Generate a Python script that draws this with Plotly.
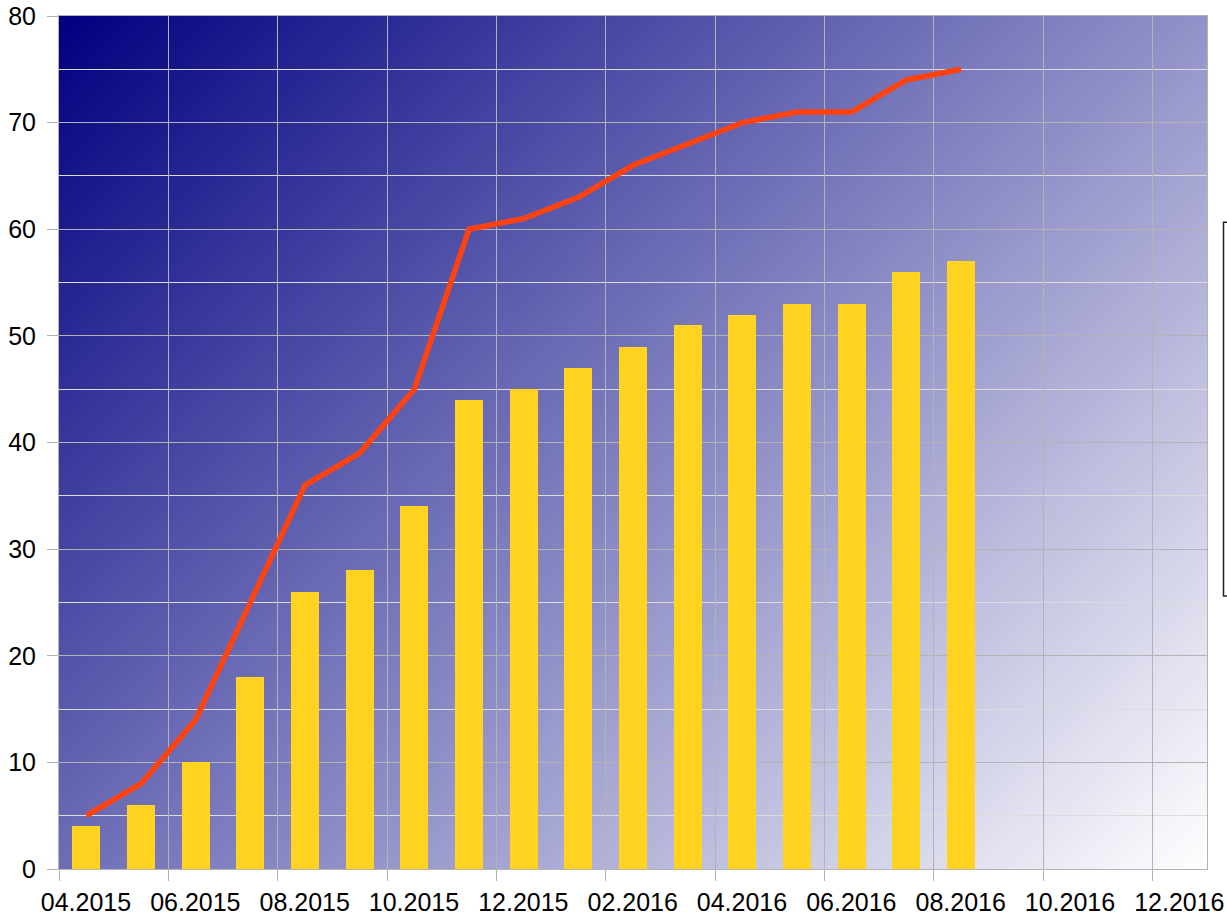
import base64
import plotly.graph_objects as go

# ---- data ----
months = ["04.2015", "05.2015", "06.2015", "07.2015", "08.2015", "09.2015", "10.2015",
          "11.2015", "12.2015", "01.2016", "02.2016", "03.2016", "04.2016", "05.2016",
          "06.2016", "07.2016", "08.2016"]
bar_values = [4, 6, 10, 18, 26, 28, 34, 44, 45, 47, 49, 51, 52, 53, 53, 56, 57]
line_values = [5, 8, 14, 25, 36, 39, 45, 60, 61, 63, 66, 68, 70, 71, 71, 74, 75]
tick_labels = ["04.2015", "06.2015", "08.2015", "10.2015", "12.2015", "02.2016",
               "04.2016", "06.2016", "08.2016", "10.2016", "12.2016"]
axis_months = 21  # 04.2015 .. 12.2016 inclusive

# ---- layout geometry ----
W, H = 1227, 915
ML, MT = 59.3, 15.5
MR, MB = W - 1207.5, H - 869.3
PW, PH = W - ML - MR, H - MT - MB

x_pos = [i + 0.5 for i in range(len(months))]
tick_pos = [2 * i for i in range(len(tick_labels))]

# diagonal gradient background (navy -> white at 45 degrees)
g = (PW + PH) / 2.0
svg = (f'<svg xmlns="http://www.w3.org/2000/svg" width="{PW:.1f}" height="{PH:.1f}" '
       f'viewBox="0 0 {PW:.1f} {PH:.1f}" preserveAspectRatio="none">'
       f'<defs><linearGradient id="g" gradientUnits="userSpaceOnUse" x1="0" y1="0" '
       f'x2="{g:.1f}" y2="{g:.1f}"><stop offset="0" stop-color="#000080"/>'
       f'<stop offset="1" stop-color="#ffffff"/></linearGradient></defs>'
       f'<rect x="0" y="0" width="{PW:.1f}" height="{PH:.1f}" fill="url(#g)"/></svg>')
svg_uri = "data:image/svg+xml;base64," + base64.b64encode(svg.encode()).decode()

font = dict(family="Liberation Sans, Arial, sans-serif", size=25, color="#000000")

fig = go.Figure()
fig.add_trace(go.Bar(x=x_pos, y=bar_values, width=0.512, marker=dict(color="#ffd320", line=dict(width=0)),
                     name="Bars", showlegend=False))
fig.add_trace(go.Scatter(x=x_pos, y=line_values, mode="lines", line=dict(color="#ff420e", width=5.5),
                         name="Line", showlegend=False))


def px_x(p):  # page pixel -> paper
    return (p - ML) / PW


def px_y(p):
    return 1 - (p - MT) / PH


fig.update_layout(
    template="none",
    width=W, height=H,
    margin=dict(l=ML, r=MR, t=MT, b=MB, pad=0, autoexpand=False),
    paper_bgcolor="#ffffff",
    plot_bgcolor="rgba(0,0,0,0)",
    font=font,
    showlegend=False,
    bargap=0,
    images=[dict(source=svg_uri, xref="paper", yref="paper", x=0, y=1, sizex=1, sizey=1,
                 sizing="stretch", xanchor="left", yanchor="top", layer="below")],
    shapes=[dict(type="rect", xref="paper", yref="paper",
                 x0=px_x(1224), x1=px_x(1300), y0=px_y(596), y1=px_y(222),
                 line=dict(color="#222222", width=1.5), fillcolor="rgba(0,0,0,0)")],
    xaxis=dict(range=[0, axis_months], tickmode="array", tickvals=tick_pos, ticktext=tick_labels,
               automargin=False,
               ticks="outside", ticklen=11, tickcolor="#b3b3b3", tickwidth=1,
               ticklabelshift=27, ticklabelstandoff=0,
               showgrid=True, gridcolor="#b3b3b3", gridwidth=1,
               showline=True, linecolor="#b3b3b3", linewidth=1, mirror=True,
               zeroline=False, tickfont=font),
    yaxis=dict(range=[0, 80], tickmode="linear", tick0=0, dtick=10,
               automargin=False,
               ticks="outside", ticklen=11, tickcolor="#b3b3b3", tickwidth=1,
               ticklabelstandoff=6,
               showgrid=True, gridcolor="#b3b3b3", gridwidth=1,
               minor=dict(dtick=5, showgrid=True, gridcolor="#dcdcdc", gridwidth=1, ticks=""),
               showline=True, linecolor="#b3b3b3", linewidth=1, mirror=True,
               zeroline=False, tickfont=font),
)

fig.write_html("out.html", config={"displayModeBar": False},
               post_script="document.body.style.margin='0';document.body.style.overflow='hidden';")
